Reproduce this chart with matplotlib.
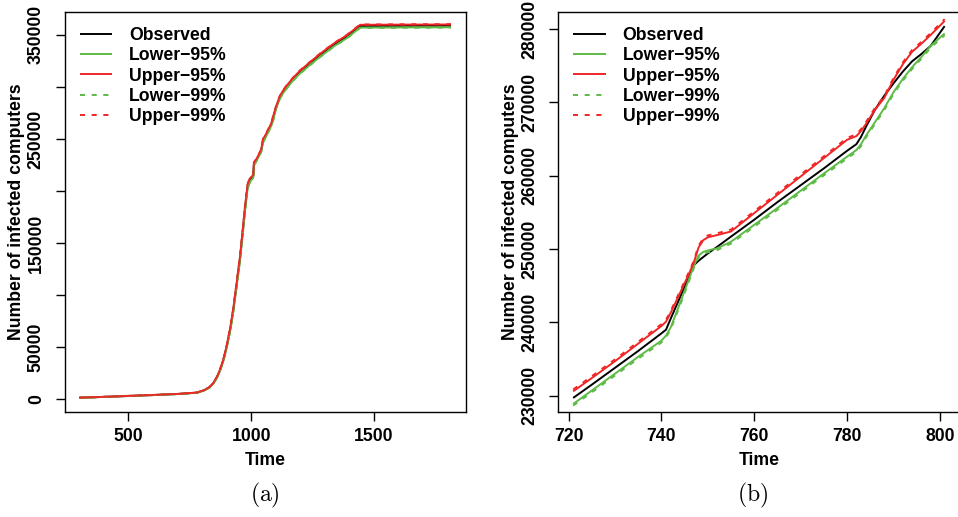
import matplotlib
matplotlib.use("Agg")
import matplotlib.pyplot as plt
from matplotlib.ticker import FixedLocator, FuncFormatter

plt.rcParams["font.family"] = ["Liberation Sans", "DejaVu Sans"]
plt.rcParams["font.weight"] = "bold"
plt.rcParams["mathtext.fontset"] = "cm"

# ---------------- panel (a): whole epidemic ----------------
time_a = [300, 400, 500, 600, 700, 780, 810, 830, 846, 860, 873, 887, 900, 915,
          927, 941, 955, 965, 975, 985, 993, 1000, 1008, 1011, 1021, 1040, 1048,
          1060, 1082, 1090, 1101, 1117, 1130, 1145, 1170, 1199, 1240, 1280, 1335,
          1389, 1443, 1550, 1650, 1813]
observed_a = [1500, 2300, 3200, 4100, 5100, 6400, 8800, 11500, 15500, 21000, 28000,
              38000, 50500, 68000, 86000, 111000, 137000, 160000, 184000, 204000,
              210000, 212000, 214000, 226000, 229700, 238500, 248000, 253500, 264300,
              270800, 280400, 290500, 295500, 300300, 307500, 314500, 322700, 330500,
              340300, 348400, 358600, 358700, 358800, 358900]
lower95_a = [1450, 2250, 3150, 4050, 5050, 6300, 8650, 11300, 15200, 20600, 27500,
             37300, 49600, 66900, 84700, 109500, 135300, 158200, 182000, 202000,
             208000, 210500, 212600, 224600, 228900, 237500, 247000, 252200, 263000,
             268700, 279400, 289200, 294200, 299000, 306200, 313100, 321300, 329000,
             338800, 346900, 357000, 357100, 357200, 357300]
upper95_a = [1550, 2350, 3250, 4150, 5150, 6500, 8950, 11700, 15800, 21400, 28500,
             38700, 51400, 69100, 87300, 112500, 138700, 161800, 186000, 206000,
             211800, 213500, 215400, 227400, 230700, 239500, 250000, 254800, 265300,
             272600, 281200, 291600, 296700, 301500, 308700, 315800, 324000, 331800,
             341600, 349700, 359700, 359800, 359900, 360000]
lower99_a = [1420, 2220, 3120, 4020, 5020, 6250, 8600, 11200, 15100, 20400, 27300,
             37000, 49300, 66500, 84300, 109000, 134800, 157700, 181500, 201500,
             207700, 210200, 212300, 224300, 228600, 237200, 246700, 251900, 262700,
             268400, 279100, 288900, 293900, 298700, 305900, 312800, 321000, 328700,
             338500, 346600, 356700, 356800, 356900, 357000]
upper99_a = [1580, 2380, 3280, 4180, 5180, 6550, 9000, 11800, 15900, 21600, 28700,
             39000, 51700, 69500, 87700, 113000, 139200, 162300, 186500, 206500,
             212100, 213800, 215700, 227700, 231000, 239800, 250300, 255100, 265600,
             272900, 281500, 291900, 297000, 301800, 309000, 316100, 324300, 332100,
             341900, 350000, 360000, 360100, 360200, 360300]

# ---------------- panel (b): zoom on t = 721..801 ----------------
time_b = [721, 725, 730, 735, 740, 741, 742, 744, 746, 747, 748, 749, 750, 752,
          755, 760, 765, 770, 775, 780, 782, 783, 784, 786, 788, 790, 792, 794,
          796, 798, 801]
observed_b = [229700, 231500, 233800, 236100, 238500, 239000, 240500, 243400,
              246300, 247800, 248400, 248900, 249400, 250300, 251700, 254000,
              256400, 258700, 261000, 263400, 264300, 265300, 266600, 269000,
              270900, 272600, 274200, 275600, 276600, 277700, 280400]
lower95_b = [228870, 230700, 233000, 235300, 237500, 238200, 239300, 242600,
             246000, 247700, 249100, 249600, 249800, 250100, 251000, 253300,
             255600, 257950, 260300, 262600, 263500, 264300, 265400, 267300,
             269200, 271400, 273200, 274800, 276200, 277700, 279400]
upper95_b = [230600, 232400, 234700, 237100, 239500, 240100, 241300, 244000,
             246700, 248200, 250200, 251200, 251600, 251900, 252400, 254900,
             257400, 259900, 262400, 264900, 265400, 266100, 267000, 269000,
             270600, 273100, 275200, 276900, 278000, 279200, 281100]
lower99_b = [228650, 230450, 232750, 235050, 237250, 237950, 239050, 242300,
             245700, 247400, 248850, 249350, 249550, 249850, 250750, 253050,
             255350, 257700, 260050, 262350, 263250, 264050, 265150, 267050,
             268950, 271150, 272950, 274550, 275950, 277450, 279150]
upper99_b = [230850, 232650, 234950, 237350, 239750, 240350, 241550, 244250,
             246950, 248450, 250450, 251450, 251850, 252150, 252650, 255150,
             257650, 260150, 262650, 265150, 265650, 266350, 267250, 269250,
             270850, 273350, 275450, 277150, 278250, 279450, 281350]

series_names = ["Observed", "Lower\u221295%", "Upper\u221295%", "Lower\u221299%", "Upper\u221299%"]

GREEN = "#5DBB46"
RED = "#F02626"
DASH = (0, (2.6, 3.4))
styles = [
    dict(color="black", lw=1.4, ls="-"),
    dict(color=GREEN, lw=1.4, ls="-"),
    dict(color=RED, lw=1.4, ls="-"),
    dict(color=GREEN, lw=1.4, ls=DASH),
    dict(color=RED, lw=1.4, ls=DASH),
]

W, H = 958, 517
fig = plt.figure(figsize=(W / 100, H / 100), dpi=100)
FS = 12.7


def px_axes(x0, x1, y0, y1):
    return fig.add_axes([x0 / W, (H - y1) / H, (x1 - x0) / W, (y1 - y0) / H])


def style_axes(ax, yticks, ylabels_shown):
    ax.tick_params(axis="both", direction="out", length=6.5, width=1,
                   labelsize=FS, color="black")
    ax.tick_params(axis="x", pad=5)
    ax.tick_params(axis="y", pad=8, labelrotation=90)
    ax.yaxis.set_major_locator(FixedLocator(yticks))
    ax.yaxis.set_major_formatter(FuncFormatter(
        lambda v, p: ("%d" % round(v)) if round(v) in ylabels_shown else ""))
    for lab in ax.get_yticklabels():
        lab.set_va("center")
    for sp in ax.spines.values():
        sp.set_linewidth(1.0)
        sp.set_color("black")
    ax.set_xlabel("Time", fontsize=FS, fontweight="bold")
    ax.set_ylabel("Number of infected computers", fontsize=FS, fontweight="bold")


def draw_panel(ax, t, data):
    for vals, st, name in zip(data, styles, series_names):
        ax.plot(t, vals, label=name, solid_capstyle="butt", **st)


# panel (a)
ax1 = px_axes(65, 466, 12, 412)
draw_panel(ax1, time_a, [observed_a, lower95_a, upper95_a, lower99_a, upper99_a])
ax1.set_xlim(242, 1874)
ax1.set_ylim(-12200, 372000)
ax1.set_xticks([500, 1000, 1500])
style_axes(ax1, list(range(0, 350001, 50000)), {0, 50000, 150000, 250000, 350000})
ax1.yaxis.set_label_coords(-0.099, 0.5)
ax1.xaxis.set_label_coords(0.5, -0.1)

# panel (b)
ax2 = px_axes(558.3, 959.5, 12, 412)
draw_panel(ax2, time_b, [observed_b, lower95_b, upper95_b, lower99_b, upper99_b])
ax2.set_xlim(717.8, 804.2)
ax2.set_ylim(227780, 282320)
ax2.set_xticks([720, 740, 760, 780, 800])
b_ticks = list(range(230000, 280001, 10000))
style_axes(ax2, b_ticks, set(b_ticks))
ax2.yaxis.set_label_coords(-0.099, 0.5)
ax2.xaxis.set_label_coords(0.5, -0.1)

for ax in (ax1, ax2):
    ax.legend(loc="upper left", bbox_to_anchor=(0.037, 0.963), frameon=False,
              fontsize=FS, handlelength=1.85, handletextpad=0.95,
              labelspacing=0.19, borderpad=0, borderaxespad=0)

fig.text(265 / W, 1 - 495 / H, r"$\mathrm{(a)}$", fontsize=17, ha="center", va="center")
fig.text(753 / W, 1 - 495 / H, r"$\mathrm{(b)}$", fontsize=17, ha="center", va="center")

fig.savefig("out.png", dpi=100)
